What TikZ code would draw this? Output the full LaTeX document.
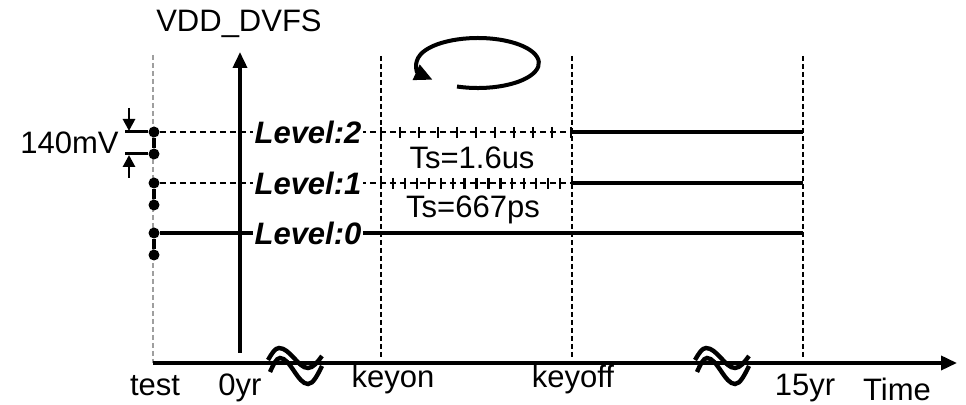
\documentclass[tikz,border=0pt]{standalone}
\usepackage{fontspec}
\setmainfont{Liberation Sans}
\usetikzlibrary{arrows.meta, positioning}

\begin{document}
\begin{tikzpicture}[
  x=0.5pt, y=-0.5pt,
  font=\fontsize{15.5}{18}\selectfont,
  axis/.style={line width=1.8pt, -{Triangle[length=8pt, width=7pt]}},
  guide/.style={line width=1.4pt, dash pattern=on 2.5pt off 1.5pt},
  testline/.style={line width=1.2pt, gray!75, dash pattern=on 2.5pt off 1.5pt},
  lvl/.style={line width=1.9pt},
  lvldash/.style={line width=1.2pt, dash pattern=on 3pt off 2pt},
  lvlname/.style={fill=white, inner sep=1pt, font=\fontsize{15.5}{18}\selectfont\bfseries\itshape},
  dot/.style={circle, fill, inner sep=0pt, minimum size=5.5pt},
  tick/.style={line width=1.1pt},
  brk/.style={line width=2.2pt},
  lbl/.style={inner sep=0pt, anchor=base}
]
\useasboundingbox (0,0) rectangle (966,405);

% axes
\coordinate (t0) at (153,363);
\coordinate (tend) at (957,363);
\coordinate (vbot) at (240,353);
\coordinate (vtop) at (240,52);
\coordinate (ttop) at (153,55);
\draw[testline] (ttop) -- (t0);
\draw[axis] (t0) -- (tend);

% phase boundaries
\foreach \x/\n in {381/keyon, 572/keyoff, 803/eol} {
  \coordinate (\n top) at (\x,56);
  \coordinate (\n) at (\x,357);
  \draw[guide] (\n top) -- (\n);
}

% voltage levels
\foreach \i/\y in {2/132, 1/183, 0/233} {
  \node[dot] (d\i a) at (154,\y) {};
  \node[dot] (d\i b) at (154,\y+22) {};
  \draw[lvl] (d\i a) -- (d\i b);
  \coordinate (k\i) at (572,\y);
  \coordinate (e\i) at (803,\y);
}
\draw[lvldash] (d2a) -- (k2);
\draw[lvldash] (d1a) -- (k1);
\draw[lvl] (k2) -- (e2);
\draw[lvl] (k1) -- (e1);
\draw[lvl] (d0a) -- (e0);

% sampling ticks
\foreach \k in {0,...,10}
  \draw[tick] (381+\k*19,127) -- ++(0,11);
\foreach \k in {0,...,16}
  \draw[tick] (381+\k*11.94,178) -- ++(0,11);

\node[lvlname] (l2) at (308,132) {Level:2};
\node[lvlname] (l1) at (308,183) {Level:1};
\node[lvlname] (l0) at (308,233) {Level:0};

\node (ts2) at (472,158) {Ts=1.6us};
\node (ts1) at (473,210) {Ts=667ps};

\draw[axis] (vbot) -- (vtop);
\node[lbl] (vdd) at (239,32) {VDD\_DVFS};

% step size
\coordinate (m2) at (125,132);
\coordinate (m1) at (125,154);
\draw[line width=1.5pt] (m2) -- (d2a);
\draw[line width=1.5pt] (m1) -- (d2b);
\coordinate (a2) at (129,108);
\coordinate (a1) at (129,178);
\draw[line width=1.4pt, -{Triangle[length=6pt, width=6pt]}] (a2) -- (129,131);
\draw[line width=1.4pt, -{Triangle[length=6pt, width=6pt]}] (a1) -- (129,155);
\node[anchor=east, inner sep=0pt] (mv) at (119,143) {140mV};

% repeat cycle
\draw[line width=2pt, -{Triangle[length=9pt, width=8pt]}]
  (457,86.5) arc[start angle=-110, end angle=222, x radius=30.5pt, y radius=12.5pt];

% axis breaks
\foreach \bx in {268, 695} {
  \draw[brk] (\bx,360) sin ++(11,-12) cos ++(15,10) sin ++(14,10) cos ++(14,-12);
  \draw[brk] (\bx+2,372) sin ++(10,-14) cos ++(14,13) sin ++(14,13) cos ++(14,-18);
}

% time labels
\node[lbl] (test) at (155,396) {test};
\node[lbl] (y0) at (240,396) {0yr};
\node[lbl] (kon) at (393,388) {keyon};
\node[lbl] (koff) at (573,388) {keyoff};
\node[lbl] (y15) at (805,396) {15yr};
\node[lbl] (time) at (897,401) {Time};
\end{tikzpicture}
\end{document}
